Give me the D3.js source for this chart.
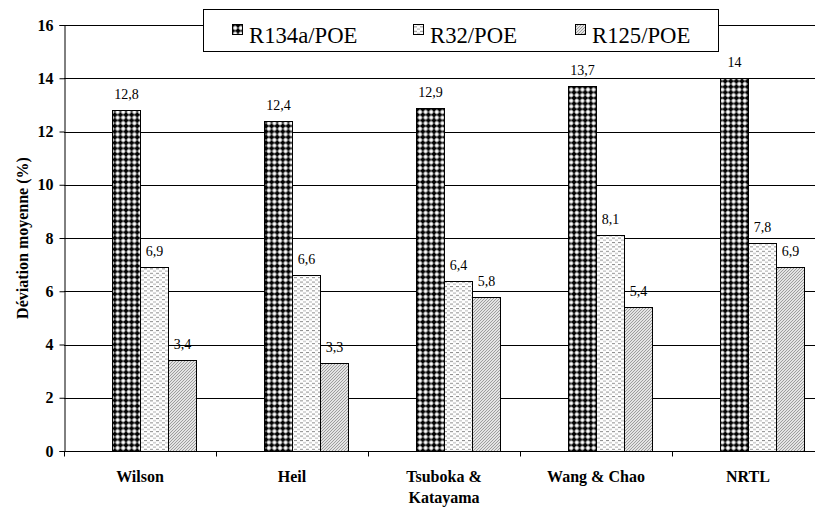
<!DOCTYPE html>
<html><head><meta charset="utf-8">
<script src="https://cdn.jsdelivr.net/npm/d3@7"></script>
<style>body{margin:0;background:#fff}svg{display:block}</style>
</head><body>
<svg id="c" width="815" height="507"></svg>
<script>
const categories = [["Wilson"], ["Heil"], ["Tsuboka &", "Katayama"], ["Wang & Chao"], ["NRTL"]];
const seriesNames = ["R134a/POE", "R32/POE", "R125/POE"];
const r134a = [12.8, 12.4, 12.9, 13.7, 14];
const r32 = [6.9, 6.6, 6.4, 8.1, 7.8];
const r125 = [3.4, 3.3, 5.8, 5.4, 6.9];
const yTicks = [0, 2, 4, 6, 8, 10, 12, 14, 16];
const seriesValues = [r134a, r32, r125];
const fmt = v => String(v).replace(".", ",");
const FONT = '"Liberation Serif"';

const svg = d3.select("#c");
const defs = svg.append("defs");
const p1 = defs.append("pattern").attr("id","p0").attr("patternUnits","userSpaceOnUse").attr("width",5.6).attr("height",5.6);
p1.append("rect").attr("width",5.6).attr("height",5.6).attr("fill","#fff");
p1.append("rect").attr("x",0.3).attr("y",1.6).attr("width",5).attr("height",2.4).attr("fill","#000");
p1.append("rect").attr("x",1.6).attr("y",0.3).attr("width",2.4).attr("height",5).attr("fill","#000");
const p2 = defs.append("pattern").attr("id","p1").attr("patternUnits","userSpaceOnUse").attr("width",6).attr("height",4.4);
p2.append("rect").attr("width",6).attr("height",4.4).attr("fill","#fff");
p2.append("rect").attr("x",0).attr("y",0).attr("width",3).attr("height",1).attr("fill","#8a8a8a");
p2.append("rect").attr("x",3).attr("y",2.2).attr("width",3).attr("height",1).attr("fill","#b0b0b0");
const p3 = defs.append("pattern").attr("id","p2").attr("patternUnits","userSpaceOnUse").attr("width",3).attr("height",3);
p3.append("rect").attr("width",3).attr("height",3).attr("fill","#e4e4e4");
p3.append("path").attr("d","M-1,1 L1,-1 M0,3 L3,0 M2,4 L4,2").attr("stroke","#8c8c8c").attr("stroke-width",0.8);

const x0 = 64, yBase = 451, yTop = 25;
const x = d3.scaleBand().domain(d3.range(categories.length)).range([x0, x0 + 152*5]).paddingInner(0).paddingOuter(0);
const xs = d3.scaleBand().domain(d3.range(seriesNames.length)).range([48, 48+84]);
const y = d3.scaleLinear().domain([0, 16]).range([yBase, yTop]);

svg.append("g").selectAll("line").data(yTicks.filter(t=>t>0)).join("line")
  .attr("x1", x0).attr("x2", 815).attr("y1", d=>Math.round(y(d))+0.5).attr("y2", d=>Math.round(y(d))+0.5)
  .attr("stroke","#000").attr("stroke-width",1);

const g = svg.append("g");
seriesValues.forEach((vals, si) => {
  g.selectAll(".b"+si).data(vals).join("rect")
    .attr("x", (d,i)=>x(i)+xs(si)+0.5)
    .attr("y", d=>Math.round(y(d))+0.5)
    .attr("width", xs.bandwidth())
    .attr("height", d=>Math.round(yBase)-Math.round(y(d)))
    .attr("fill", `url(#p${si})`).attr("stroke","#000").attr("stroke-width",1);
  g.selectAll(".l"+si).data(vals).join("text")
    .attr("x", (d,i)=>x(i)+xs(si)+xs.bandwidth()/2+0.5)
    .attr("y", d=>y(d)-11)
    .attr("text-anchor","middle")
    .style("font-family",FONT).style("font-size","14px")
    .text(d=>fmt(d));
});

const yAxis = d3.axisLeft(y).tickValues(yTicks).tickSize(5).tickPadding(6).tickFormat(d3.format("d"));
const ya = svg.append("g").attr("transform",`translate(${x0+0.5},0)`).call(yAxis);
ya.select(".domain").attr("stroke","#000");
ya.selectAll("text").style("font-family",FONT).style("font-size","16px").style("font-weight","bold").attr("fill","#000");

const xAxis = d3.axisBottom(x).tickSize(0).tickFormat("");
const xa = svg.append("g").attr("transform",`translate(0,${yBase+0.5})`).call(xAxis);
xa.select(".domain").attr("stroke","#000").attr("d",`M${x0},0H815`);
xa.selectAll(".sep").data(d3.range(categories.length)).join("line").attr("class","sep")
  .attr("x1", i=>x(i)+0.5).attr("x2", i=>x(i)+0.5).attr("y1",0).attr("y2",5).attr("stroke","#000");
const xl = svg.append("g");
categories.forEach((lines, i) => {
  const t = xl.append("text").attr("text-anchor","middle")
    .style("font-family",FONT).style("font-size","16px").style("font-weight","bold");
  lines.forEach((ln, k) => t.append("tspan").attr("x", x(i)+x.bandwidth()/2).attr("y", 482 + k*21).text(ln));
});

svg.append("text").attr("transform","translate(28,238) rotate(-90)").attr("text-anchor","middle")
  .style("font-family",FONT).style("font-size","16px").style("font-weight","bold")
  .text("Déviation moyenne (%)");

const lg = svg.append("g");
lg.append("rect").attr("x",203.5).attr("y",9.5).attr("width",515).attr("height",42).attr("fill","#fff").attr("stroke","#000");
const lx = [232, 413, 575];
seriesNames.forEach((n, i) => {
  lg.append("rect").attr("x",lx[i]+0.5).attr("y",24.5).attr("width",10).attr("height",10).attr("fill",`url(#p${i})`).attr("stroke","#000");
  lg.append("text").attr("x",lx[i]+17).attr("y",43).style("font-family",FONT).style("font-size","22.7px").text(n);
});
</script>
</body></html>
